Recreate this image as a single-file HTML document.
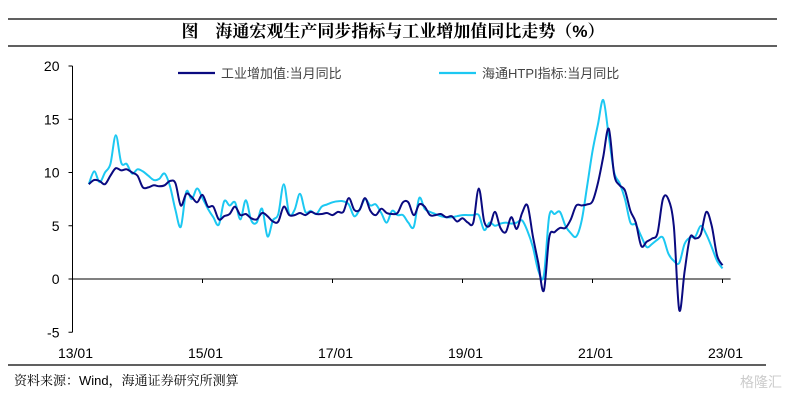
<!DOCTYPE html>
<html><head><meta charset="utf-8"><style>
body{margin:0;background:#fff;width:786px;height:403px;overflow:hidden;font-family:"Liberation Sans","Noto Sans CJK SC",sans-serif}
</style></head><body>
<svg id="c" width="786" height="403">
<line x1="8" y1="19" x2="777" y2="19" stroke="#000" stroke-width="1.3"/>
<text x="393" y="37" text-anchor="middle" font-size="17" font-weight="bold" font-family="'Liberation Sans','Noto Serif CJK SC',serif">图　海通宏观生产同步指标与工业增加值同比走势（%）</text>
<line x1="8" y1="46" x2="777" y2="46" stroke="#000" stroke-width="1.3"/>
<line x1="8" y1="365" x2="766" y2="365" stroke="#000" stroke-width="1.3"/>
<text x="14" y="385" font-size="13" font-family="'Liberation Sans','Noto Serif CJK SC',serif">资料来源：Wind，海通证券研究所测算</text>
<text x="740" y="387" font-size="14" fill="#ccc">格隆汇</text>
<g id="axes"></g>
<g id="series"></g>
<line x1="178" y1="73" x2="215" y2="73" stroke="#0a0a80" stroke-width="2.2"/>
<text x="221" y="78" font-size="13" fill="#444">工业增加值:当月同比</text>
<line x1="439" y1="73" x2="476" y2="73" stroke="#1cc8f2" stroke-width="2.2"/>
<text x="482" y="78" font-size="13" fill="#444">海通HTPI指标:当月同比</text>
</svg>
<script>
const xTickLabels=["13/01","15/01","17/01","19/01","21/01","23/01"];
const yTicks=[-5,0,5,10,15,20];
const startIndex=3;
const iva=[8.9,9.3,9.2,8.9,9.7,10.4,10.2,10.3,10.0,9.7,
8.6,8.6,8.8,8.7,8.8,9.2,9.0,6.9,8.0,7.7,7.2,7.9,
6.8,6.8,5.6,5.9,6.1,6.8,6.0,6.1,5.7,5.6,6.2,5.9,
5.4,5.4,6.8,6.0,6.0,6.2,6.0,6.3,6.1,6.1,6.2,6.0,
6.3,6.3,7.6,6.5,6.5,7.6,6.4,6.0,6.6,6.2,6.1,6.2,
7.2,7.2,6.0,7.0,6.8,6.0,6.0,6.1,5.8,5.9,5.4,5.7,
5.3,5.3,8.5,5.4,5.0,6.3,4.8,4.4,5.8,4.7,6.2,6.9,
4.0,1.5,-1.1,3.9,4.4,4.8,4.8,5.6,6.9,6.9,7.0,7.3,
9.0,11.5,14.1,9.8,8.8,8.3,6.4,5.3,3.1,3.5,3.8,4.3,
7.5,7.5,5.0,-2.9,0.7,3.9,3.8,4.2,6.3,5.0,2.2,1.3];
const htpi=[8.9,10.1,9.1,10.0,10.8,13.5,10.9,10.8,9.9,10.3,
10.1,9.7,9.3,9.4,9.9,8.7,6.5,4.9,8.2,7.5,8.5,7.6,
6.6,5.8,5.1,7.3,6.9,7.2,5.6,7.4,5.5,5.3,6.6,4.0,
5.5,6.1,8.9,6.1,6.5,8.0,6.3,6.4,6.1,6.8,7.0,7.2,
7.3,7.3,7.0,5.9,6.5,7.5,6.9,7.0,6.2,5.3,6.4,6.0,
6.0,5.3,4.9,7.6,6.6,6.3,6.1,5.9,5.8,5.8,5.9,6.0,
6.0,6.0,6.0,4.6,5.3,5.0,5.2,5.3,5.2,5.3,5.5,4.5,
3.0,0.8,0.3,5.9,6.1,6.3,5.0,4.3,4.0,5.5,8.7,12.0,
14.5,16.8,13.4,10.0,9.0,7.5,5.3,5.1,4.0,3.0,3.3,3.7,
3.9,2.4,1.7,1.5,3.3,3.9,4.0,5.0,4.2,3.0,1.7,1.0];
const NS="http://www.w3.org/2000/svg";
const X0=72.5,PXM=130/24,Y0=279,PXU=10.65;
function xs(i){return X0+PXM*i;}
function ys(v){return Y0-PXU*v;}
function mk(t,a,p){const e=document.createElementNS(NS,t);for(const k in a)e.setAttribute(k,a[k]);p.appendChild(e);return e;}
const ax=document.getElementById('axes');
let yl=mk('line',{x1:X0,y1:ys(20),x2:X0,y2:ys(-5),stroke:'#000','stroke-width':1},ax);


yTicks.forEach(v=>{
 let t=mk('line',{x1:X0-4,y1:ys(v),x2:X0,y2:ys(v),stroke:'#000'},ax);
 
 
 let l=mk('text',{x:X0-13,y:ys(v)+5,'text-anchor':'end','font-size':14,fill:'#000'},ax);
 l.textContent=v;
 
 
});
let xl=mk('line',{x1:X0,y1:Y0,x2:xs(121.5),y2:Y0,stroke:'#000','stroke-width':1},ax);


xTickLabels.forEach((s,k)=>{
 const x=xs(k*24);
 let t=mk('line',{x1:x,y1:Y0,x2:x,y2:Y0+4,stroke:'#000'},ax);
 
 
 let l=mk('text',{x:x+3,y:358,'text-anchor':'middle','font-size':14,fill:'#000'},ax);
 l.textContent=s;
 
 
});
function smooth(vals){
 const p=vals.map((v,i)=>[xs(startIndex+i),ys(v)]);
 let d='M'+p[0][0].toFixed(1)+','+p[0][1].toFixed(1);
 for(let i=0;i<p.length-1;i++){
  const a=p[i-1]||p[i],b=p[i],c=p[i+1],e=p[i+2]||c;
  const c1=[b[0]+(c[0]-a[0])/6,b[1]+(c[1]-a[1])/6],c2=[c[0]-(e[0]-b[0])/6,c[1]-(e[1]-b[1])/6];
  d+='C'+c1[0].toFixed(1)+','+c1[1].toFixed(1)+' '+c2[0].toFixed(1)+','+c2[1].toFixed(1)+' '+c[0].toFixed(1)+','+c[1].toFixed(1);
 }
 return d;
}
const sg=document.getElementById('series');
let p2=mk('path',{d:smooth(htpi),fill:'none',stroke:'#1cc8f2','stroke-width':2},sg);


let p1=mk('path',{d:smooth(iva),fill:'none',stroke:'#0a0a80','stroke-width':2},sg);


</script>
</body></html>
